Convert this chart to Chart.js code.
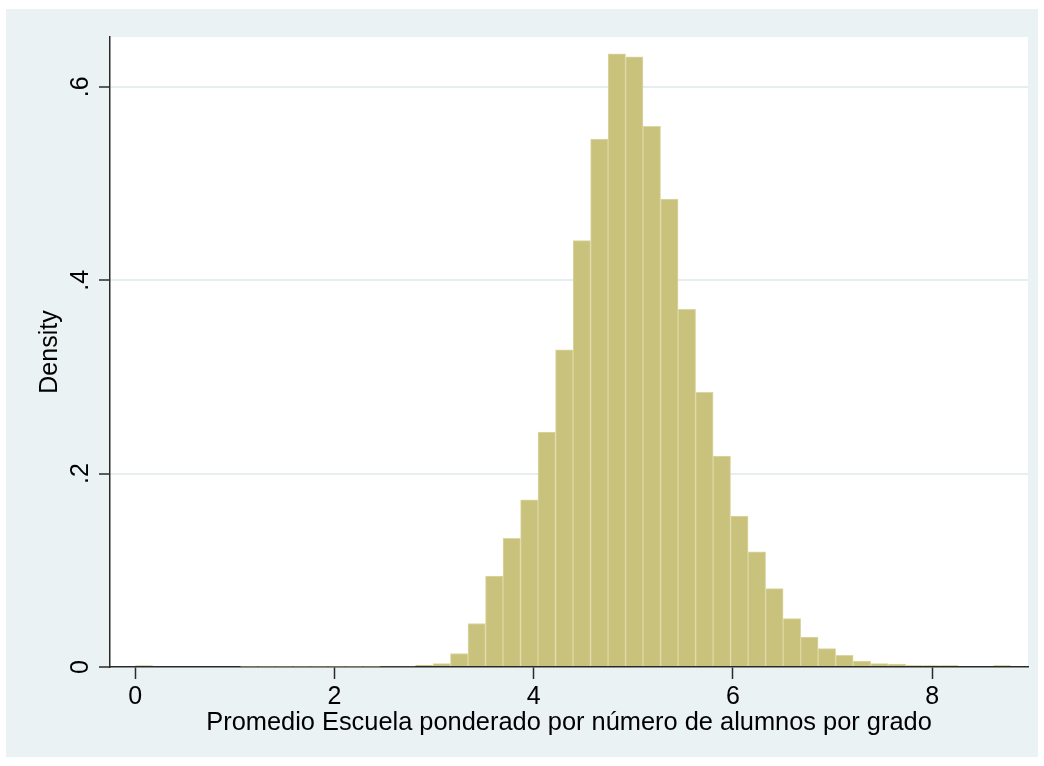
<!DOCTYPE html>
<html>
<head>
<meta charset="utf-8">
<title>Histograma</title>
<script src="https://cdn.jsdelivr.net/npm/chart.js@4.4.0/dist/chart.umd.min.js"></script>
<style>
  html, body { margin: 0; padding: 0; background: #fff; }
  #chartBox { width: 1044px; height: 766px; }
</style>
</head>
<body>
<div id="chartBox"><canvas id="histChart" width="1044" height="766" style="width:1044px;height:766px"></canvas></div>
<script>
/* ========================================
   Histogram - promedio escuela (density)
   ======================================== */

// bin midpoints (50 bins, width ~0.176)
const binMids = [
    0.088, 0.264, 0.440, 0.615, 0.791, 0.967, 1.143, 1.319, 1.494, 1.670,
    1.846, 2.022, 2.198, 2.373, 2.549, 2.725, 2.901, 3.077, 3.252, 3.428,
    3.604, 3.780, 3.956, 4.131, 4.307, 4.483, 4.659, 4.835, 5.010, 5.186,
    5.362, 5.538, 5.714, 5.889, 6.065, 6.241, 6.417, 6.593, 6.768, 6.944,
    7.120, 7.296, 7.472, 7.647, 7.823, 7.999, 8.175, 8.351, 8.526, 8.702
];

// density of each bin
const densities = [
    0.0015, 0, 0, 0, 0, 0, 0.0008, 0.0008, 0.0008, 0.0008,
    0.0008, 0.0008, 0.0008, 0.0008, 0.001, 0.001, 0.0018, 0.0035, 0.014, 0.045,
    0.094, 0.133, 0.173, 0.243, 0.328, 0.441, 0.546, 0.634, 0.631, 0.559,
    0.484, 0.370, 0.284, 0.218, 0.156, 0.119, 0.081, 0.050, 0.031, 0.019,
    0.012, 0.006, 0.0035, 0.003, 0.0015, 0.0015, 0.0015, 0, 0, 0.0015
];

const xTickValues = [0, 2, 4, 6, 8];
const yTickValues = [0, 0.2, 0.4, 0.6];
const yTickLabels = ['0', '.2', '.4', '.6'];
const xAxisTitle = 'Promedio Escuela ponderado por número de alumnos por grado';
const yAxisTitle = 'Density';

const AXIS_COLOR = '#2a2a2a';
const BG_COLOR = '#eaf2f3';
const FONT = '"Liberation Sans", Arial, sans-serif';

document.addEventListener('DOMContentLoaded', function() {
    drawHistogram();
});

// Stata-like backdrop: outer bluish panel, white plot region
const backdropPlugin = {
    id: 'backdrop',
    beforeDraw(chart) {
        const ctx = chart.ctx;
        const a = chart.chartArea;
        ctx.save();
        ctx.fillStyle = '#ffffff';
        ctx.fillRect(0, 0, chart.width, chart.height);
        ctx.fillStyle = BG_COLOR;
        ctx.fillRect(6, 9, chart.width - 12, chart.height - 18);
        ctx.fillStyle = '#ffffff';
        ctx.fillRect(a.left, a.top, a.right - a.left, a.bottom - a.top);
        ctx.restore();
    }
};

// Rotated y tick labels (read bottom to top)
const yLabelsPlugin = {
    id: 'yLabels',
    afterDraw(chart) {
        const ctx = chart.ctx;
        const yScale = chart.scales.y;
        ctx.save();
        ctx.font = '25px ' + FONT;
        ctx.fillStyle = '#000';
        ctx.textAlign = 'center';
        ctx.textBaseline = 'alphabetic';
        yTickValues.forEach((v, i) => {
            const py = yScale.getPixelForValue(v);
            ctx.save();
            ctx.translate(88, py);
            ctx.rotate(-Math.PI / 2);
            ctx.fillText(yTickLabels[i], 0, 0);
            ctx.restore();
        });
        ctx.restore();
    }
};

// Function to draw the histogram
function drawHistogram() {
    const canvas = document.getElementById('histChart');
    if (!canvas) return;

    Chart.defaults.font.family = FONT;
    Chart.defaults.color = '#000';

    new Chart(canvas, {
        type: 'bar',
        data: {
            datasets: [{
                data: binMids.map((x, i) => ({ x: x, y: densities[i] })),
                backgroundColor: '#c9c27c',
                borderColor: '#dcd7a2',
                borderWidth: 1,
                borderSkipped: 'start',
                barPercentage: 1,
                categoryPercentage: 1
            }]
        },
        options: {
            responsive: false,
            devicePixelRatio: 1,
            animation: false,
            layout: { padding: { top: 37, right: 16, left: 0, bottom: 0 } },
            plugins: {
                legend: { display: false },
                tooltip: { enabled: false }
            },
            scales: {
                x: {
                    type: 'linear',
                    min: -0.254,
                    max: 8.963,
                    offset: false,
                    afterBuildTicks: function(scale) {
                        scale.ticks = xTickValues.map(v => ({ value: v }));
                    },
                    afterFit: function(scale) { scale.height = 99; },
                    ticks: {
                        includeBounds: false,
                        maxRotation: 0,
                        minRotation: 0,
                        padding: 3,
                        color: '#000',
                        font: { size: 25 }
                    },
                    grid: {
                        offset: false,
                        drawOnChartArea: false,
                        drawTicks: true,
                        tickLength: 12,
                        tickColor: AXIS_COLOR,
                        tickWidth: 1.5
                    },
                    border: { display: true, color: AXIS_COLOR, width: 1.5 },
                    title: {
                        display: true,
                        text: xAxisTitle,
                        color: '#000',
                        font: { size: 25.4 },
                        padding: { top: 0, bottom: 28 }
                    }
                },
                y: {
                    type: 'linear',
                    min: 0,
                    max: 0.6515,
                    afterBuildTicks: function(scale) {
                        scale.ticks = yTickValues.map(v => ({ value: v }));
                    },
                    afterFit: function(scale) { scale.width = 110; },
                    ticks: { display: false },
                    grid: {
                        color: function(c) {
                            return c.tick && c.tick.value === 0 ? 'rgba(0,0,0,0)' : '#e6eef0';
                        },
                        lineWidth: 2,
                        drawTicks: true,
                        tickLength: 11,
                        tickColor: AXIS_COLOR,
                        tickWidth: 1.5
                    },
                    border: { display: true, color: AXIS_COLOR, width: 1.5 },
                    title: {
                        display: true,
                        text: yAxisTitle,
                        color: '#000',
                        font: { size: 25 },
                        padding: { top: 35, bottom: 0 }
                    }
                }
            }
        },
        plugins: [backdropPlugin, yLabelsPlugin]
    });
}
</script>
</body>
</html>
